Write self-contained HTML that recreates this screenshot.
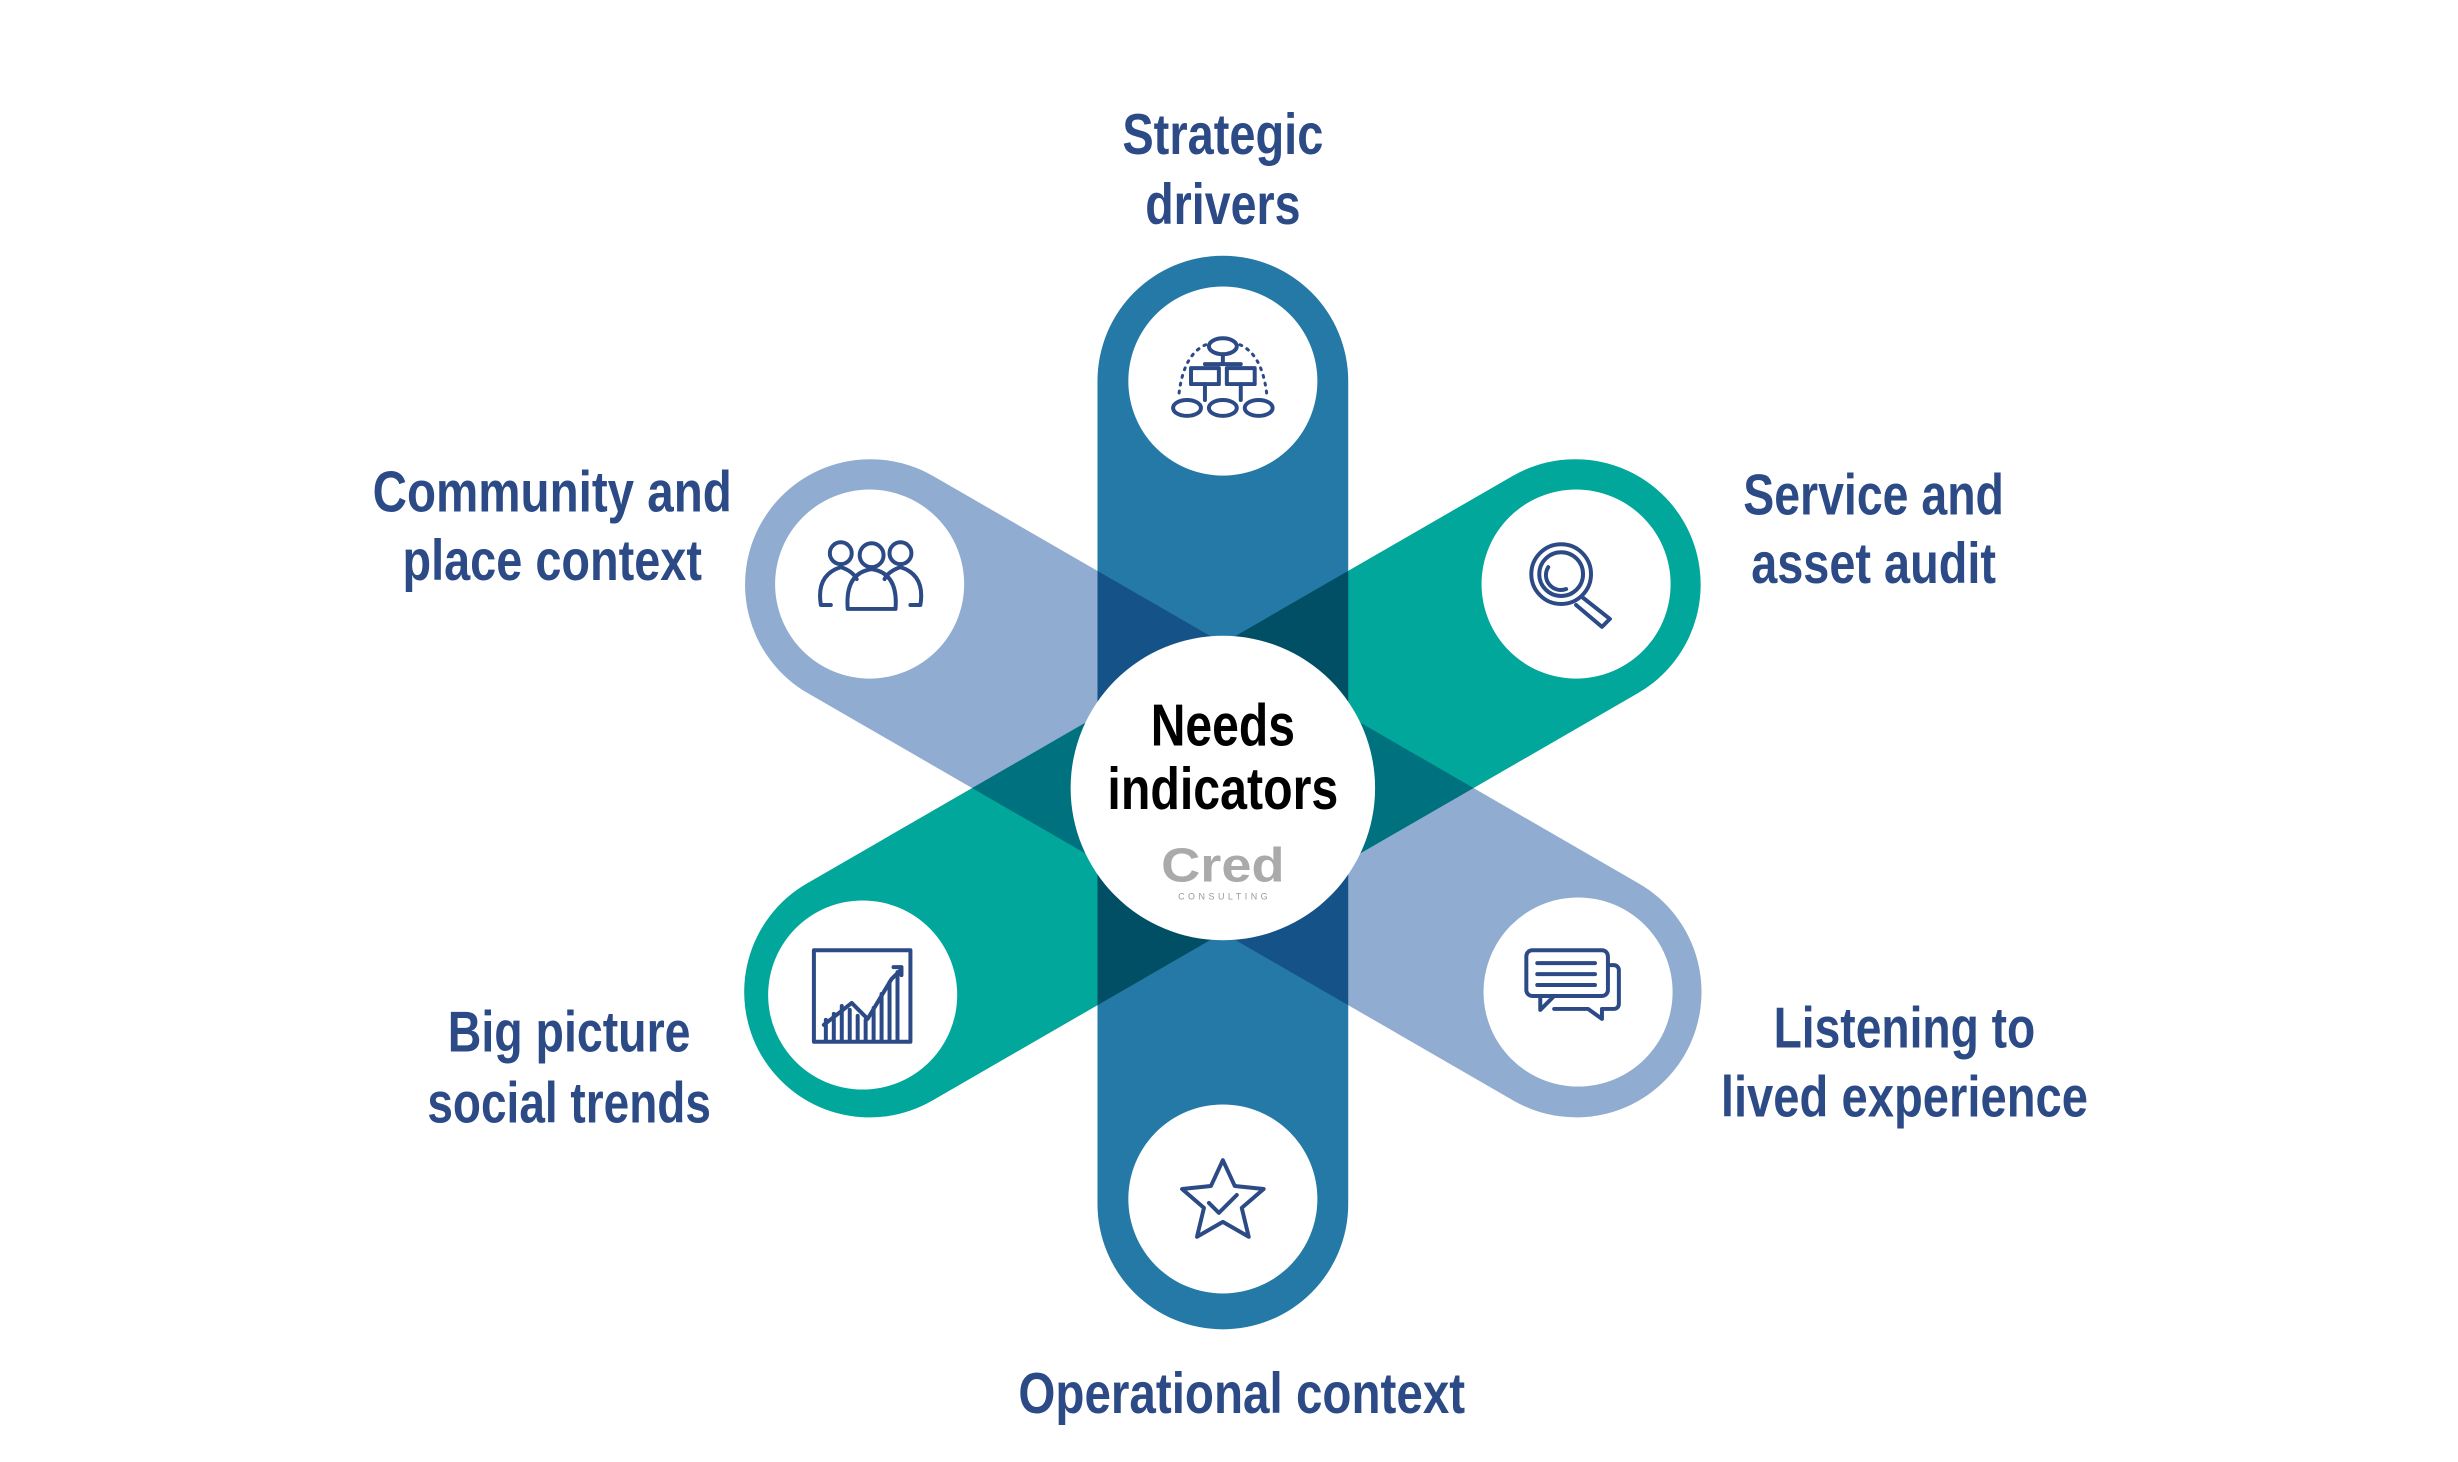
<!DOCTYPE html>
<html><head><meta charset="utf-8"><style>html,body{margin:0;padding:0;background:#fff}svg{display:block}</style></head>
<body>
<svg width="2458" height="1462" viewBox="0 0 2458 1462" xmlns="http://www.w3.org/2000/svg">
<g transform="scale(0.995)">
<g style="isolation:isolate">
  <rect x="1103" y="257" width="252" height="1079" rx="126" fill="#2479a6"/>
  <g transform="rotate(60 1229 792)" style="mix-blend-mode:multiply">
    <rect x="1103" y="257" width="252" height="1071" rx="126" fill="#00a79a"/>
  </g>
  <g transform="rotate(-60 1229 792)" style="mix-blend-mode:multiply">
    <rect x="1103" y="257" width="252" height="1071" rx="126" fill="#91acd1"/>
  </g>
</g>
<g fill="#fff">
  <circle cx="1229" cy="383" r="95"/>
  <circle cx="1229" cy="1205" r="95"/>
  <circle cx="874" cy="587" r="95"/>
  <circle cx="1584" cy="587" r="95"/>
  <circle cx="867" cy="1000" r="95"/>
  <circle cx="1586" cy="997" r="95"/>
  <circle cx="1229" cy="792" r="153"/>
</g>
<g fill="none" stroke="#2b4a86" stroke-width="4" stroke-linecap="round" stroke-linejoin="round">
  <ellipse cx="1229" cy="348" rx="14" ry="8"/>
  <rect x="1197" y="370" width="28" height="16"/><rect x="1233" y="370" width="28" height="16"/>
  <ellipse cx="1193" cy="410" rx="14" ry="8"/><ellipse cx="1229" cy="410" rx="14" ry="8"/><ellipse cx="1265" cy="410" rx="14" ry="8"/>
  <path d="M1229 356v10M1211 366h36M1211 386v16M1247 386v16" />
  <path d="M1185 395 Q1190 355 1213 346 M1273 395 Q1268 355 1245 346" stroke-dasharray="2 6" stroke-width="3"/>
  <circle cx="845" cy="556" r="11"/><circle cx="876" cy="558" r="12"/><circle cx="905" cy="556" r="11"/>
  <path d="M835 608 h-10 q-5-30 20-38 q12 4 16 12 M915 608 h10 q5-30-20-38 q-12 4-16 12"/>
  <path d="M852 612 q-3-36 24-40 q27 4 24 40 z"/>
  <circle cx="1569" cy="577" r="30"/><circle cx="1569" cy="577" r="22"/>
  <path d="M1556 570 a15 15 0 0 0 18 22"/>
  <path d="M1590 600 l28 22 l-8 8 l-26-22"/>
  <rect x="818" y="955" width="97" height="92"/>
  <path d="M830 1045v-20M838 1045v-26M846 1045v-34M854 1045v-30M862 1045v-24M870 1045v-20M878 1045v-32M886 1045v-46M894 1045v-58M902 1045v-68"/>
  <path d="M828 1030 l28-22 l16 16 l24-40 l8 -8 M898 972 h8 v8"/>
  <rect x="1534" y="955" width="82" height="46" rx="6"/>
  <path d="M1548 1001 v14 l14-14 M1545 968h58M1545 979h58M1545 990h58"/>
  <path d="M1616 970 h6 a5 5 0 0 1 5 5 v34 a5 5 0 0 1-5 5 h-12 v10 l-14-10 h-34"/>
  <path d="M1229 1166 l12 26 l29 3 l-22 19 l7 29 l-26-15 l-26 15 l7-29 l-22-19 l29-3 z"/>
  <path d="M1215 1209 l10 10 l18-18"/>
</g>
<g font-family="'Liberation Sans', sans-serif" fill="#2b4a86" font-size="58" font-weight="bold" text-anchor="middle">
  <text x="1229" y="155" textLength="202" lengthAdjust="spacingAndGlyphs">Strategic</text>
  <text x="1229" y="225" textLength="156" lengthAdjust="spacingAndGlyphs">drivers</text>
  <text x="555" y="514" textLength="361" lengthAdjust="spacingAndGlyphs">Community and</text>
  <text x="555" y="583" textLength="301" lengthAdjust="spacingAndGlyphs">place context</text>
  <text x="1883" y="517" textLength="262" lengthAdjust="spacingAndGlyphs">Service and</text>
  <text x="1883" y="586" textLength="246" lengthAdjust="spacingAndGlyphs">asset audit</text>
  <text x="572" y="1057" textLength="244" lengthAdjust="spacingAndGlyphs">Big picture</text>
  <text x="572" y="1128" textLength="285" lengthAdjust="spacingAndGlyphs">social trends</text>
  <text x="1914" y="1053" textLength="263" lengthAdjust="spacingAndGlyphs">Listening to</text>
  <text x="1914" y="1122" textLength="369" lengthAdjust="spacingAndGlyphs">lived experience</text>
  <text x="1248" y="1420" textLength="449" lengthAdjust="spacingAndGlyphs">Operational context</text>
</g>
<g font-family="'Liberation Sans', sans-serif" text-anchor="middle" font-weight="bold">
  <text x="1229" y="749" font-size="60" fill="#000" textLength="145" lengthAdjust="spacingAndGlyphs">Needs</text>
  <text x="1229" y="813" font-size="60" fill="#000" textLength="232" lengthAdjust="spacingAndGlyphs">indicators</text>
  <text x="1229" y="886" font-size="48" fill="#aaaaaa" textLength="124" lengthAdjust="spacingAndGlyphs">Cred</text>
  <text x="1229" y="904" font-size="9" font-weight="normal" fill="#999" textLength="90" lengthAdjust="spacing">CONSULTING</text>
</g>
</g>
</svg>
</body></html>
